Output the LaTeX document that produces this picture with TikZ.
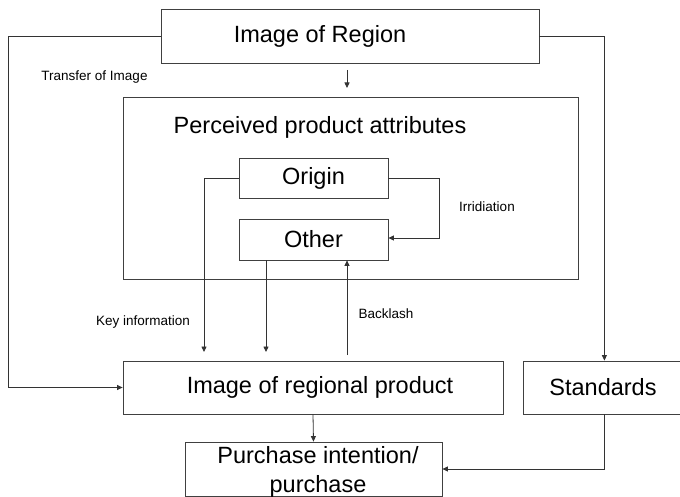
\documentclass[tikz,border=0pt]{standalone}
\usepackage{fontspec}
\setmainfont{Liberation Sans}
\usetikzlibrary{arrows.meta,calc}
\tikzset{
  box/.style={draw=black!75, line width=0.8pt, inner sep=0pt},
  big/.style={font=\fontsize{23.5}{29}\selectfont, inner sep=0pt},
  small/.style={font=\fontsize{13.5}{16}\selectfont, inner sep=0pt},
  conn/.style={draw=black!80, line width=0.8pt},
  arr/.style={conn, -{Triangle[length=5.5pt,width=5pt]}}
}
\begin{document}
\begin{tikzpicture}[x=1pt,y=-1pt]
\useasboundingbox (0,0) rectangle (680,497);
% boxes
\node[box, minimum width=378pt, minimum height=54pt] (region) at (350,36) {};
\node[big] (regiont) at (320,36) {Image of Region};
\node[box, minimum width=455pt, minimum height=182pt] (perc) at (350.5,188) {};
\node[big] (perct) at (320,127) {Perceived product attributes};
\node[box, minimum width=149pt, minimum height=40pt] (origin) at (313.5,178) {};
\node[big] (origint) at (313.5,178) {Origin};
\node[box, minimum width=149pt, minimum height=41pt] (other) at (313.5,239.5) {};
\node[big] (othert) at (313.5,239.5) {Other};
\node[box, minimum width=380pt, minimum height=53pt] (imgprod) at (313,387.5) {};
\node[big] (imgprodt) at (320,387.5) {Image of regional product};
\node[box, minimum width=162pt, minimum height=53pt] (std) at (604,387.5) {};
\node[big] (stdt) at (603,387.5) {Standards};
\node[box, minimum width=257pt, minimum height=54pt] (purch) at (313.5,469) {};
\node[big, align=center] (purcht) at (318,472) {Purchase intention/\\purchase};
% labels
\node[small] (l1) at (94.5,77) {Transfer of Image};
\node[small] (l2) at (487,207) {Irridiation};
\node[small] (l3) at (143,322) {Key information};
\node[small] (l4) at (386,314) {Backlash};
% coordinates
\coordinate (a1) at (347,70);
\coordinate (a2) at (347,88);
\coordinate (k1) at (204,352);
\coordinate (k2) at (266,352);
\coordinate (b1) at (347,355);
% connectors
\draw[arr] (region.west) -- ++(-152,0) |- (imgprod.west);
\draw[arr] (region.east) -- ++(65,0) coordinate (rc) -- (rc |- std.north);
\draw[arr] (a1) -- (a2);
\draw[arr] (origin.west) -| (k1);
\draw[arr] (other.south -| k2) -- (k2);
\draw[arr] (b1) -- (b1 |- other.south);
\draw[arr] (origin.east) -- ++(51,0) |- ($(other.east)+(0,-1.5)$);
\draw[arr] (imgprod.south) -- (purch.north);
\draw[arr] (std.south) |- (purch.east);
\end{tikzpicture}
\end{document}
